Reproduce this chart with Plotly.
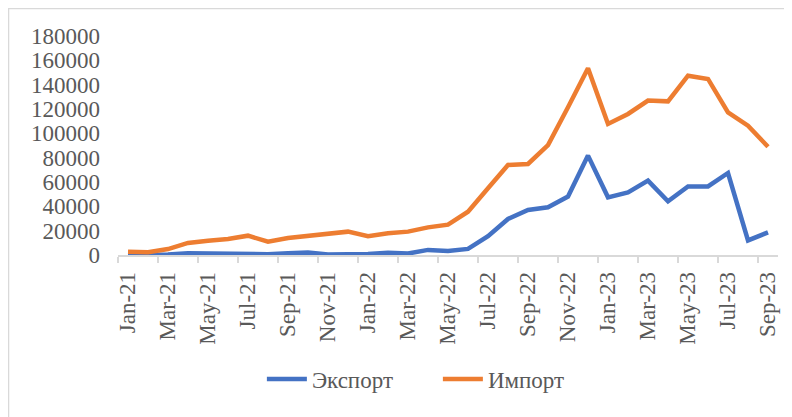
import plotly.graph_objects as go

months = ["Jan-21", "Feb-21", "Mar-21", "Apr-21", "May-21", "Jun-21", "Jul-21", "Aug-21",
          "Sep-21", "Oct-21", "Nov-21", "Dec-21",
          "Jan-22", "Feb-22", "Mar-22", "Apr-22", "May-22", "Jun-22", "Jul-22", "Aug-22",
          "Sep-22", "Oct-22", "Nov-22", "Dec-22",
          "Jan-23", "Feb-23", "Mar-23", "Apr-23", "May-23", "Jun-23", "Jul-23", "Aug-23",
          "Sep-23"]

export_vals = [300, 200, 500, 1500, 1200, 1000, 1000, 600, 1500, 2000, 500, 500,
               800, 1800, 1200, 4200, 3200, 5000, 15400, 29600, 37000, 39200, 48000, 81700,
               47400, 51500, 61100, 44100, 56400, 56400, 67400, 12000, 18600]

import_vals = [2700, 2200, 4900, 9900, 11800, 13100, 15900, 10900, 14000, 15900, 18100, 19200,
               15400, 17800, 19200, 22700, 24900, 35600, 54800, 74000, 74800, 90400, 121400, 153500,
               107700, 115900, 126900, 126300, 147400, 144700, 117300, 106300, 89000]

y_ticks = list(range(0, 180001, 20000))

x_idx = list(range(len(months)))
label_idx = x_idx[::2]
label_text = months[::2]

FONT = "Liberation Serif, Times New Roman, serif"
TXT = "#595959"
FS = 23

fig = go.Figure()
fig.add_trace(go.Scatter(x=x_idx, y=export_vals, mode="lines", name="Экспорт",
                         line=dict(color="#4472C4", width=4.5)))
fig.add_trace(go.Scatter(x=x_idx, y=import_vals, mode="lines", name="Импорт",
                         line=dict(color="#ED7D31", width=4.5)))

fig.update_layout(
    width=792, height=417,
    margin=dict(l=110, r=22, t=28, b=170),
    paper_bgcolor="white", plot_bgcolor="white",
    font=dict(family=FONT, size=FS, color=TXT),
    showlegend=True,
    legend=dict(orientation="h", x=0.218, xanchor="left", y=-0.567, yanchor="middle",
                font=dict(family=FONT, size=FS, color=TXT), itemwidth=40,
                entrywidth=121, entrywidthmode="pixels",
                bgcolor="rgba(0,0,0,0)"),
    xaxis=dict(
        range=[-0.5, len(months) - 0.5],
        tickmode="array", tickvals=label_idx, ticktext=label_text,
        tickangle=-90, ticks="", showgrid=False, zeroline=False,
        showline=True, linecolor="#d9d9d9", linewidth=1.5,
        ticklabelstandoff=6,
        tickfont=dict(family=FONT, size=FS, color=TXT),
        minor=dict(tick0=-0.5, dtick=2, ticks="outside", ticklen=6,
                   tickcolor="#d9d9d9", tickwidth=1.5, showgrid=False),
    ),
    yaxis=dict(
        range=[0, 180000], tickmode="array", tickvals=y_ticks,
        ticktext=[str(v) for v in y_ticks],
        showgrid=False, zeroline=False, showline=False, ticks="",
        ticklabelstandoff=17,
        tickfont=dict(family=FONT, size=FS, color=TXT),
    ),
)

fig.add_shape(type="rect", xref="paper", yref="paper",
              x0=-0.1659, x1=1.2, y0=-2.0, y1=1.1256,
              line=dict(color="#d9d9d9", width=1.5), layer="below")

fig.write_html("out.html")
